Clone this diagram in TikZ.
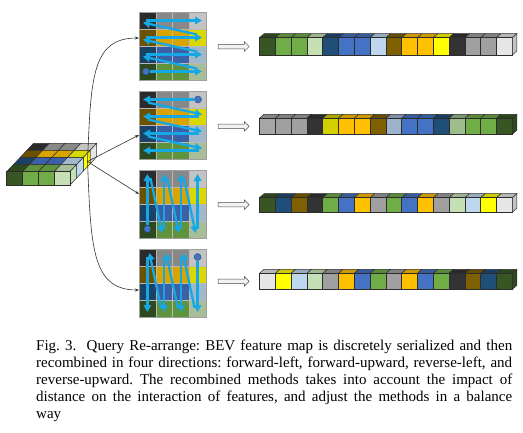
\documentclass[tikz,border=0pt]{standalone}
\usepackage{fontspec}
\setmainfont{Liberation Serif}
\usetikzlibrary{arrows.meta,shapes.arrows}

\definecolor{cDkGray}{RGB}{51,51,51}
\definecolor{cGray}{RGB}{160,160,160}
\definecolor{cLtGray}{RGB}{230,230,230}
\definecolor{cBrown}{RGB}{127,96,0}
\definecolor{cOrange}{RGB}{255,192,0}
\definecolor{cYellow}{RGB}{255,255,0}
\definecolor{cDkBlue}{RGB}{31,78,121}
\definecolor{cBlue}{RGB}{68,114,196}
\definecolor{cLtBlue}{RGB}{189,215,238}
\definecolor{cDkGreen}{RGB}{55,86,35}
\definecolor{cGreen}{RGB}{112,173,71}
\definecolor{cLtGreen}{RGB}{197,224,180}
% muted tones of the second bar
\definecolor{mLtGray}{RGB}{166,166,166}
\definecolor{mYellow}{RGB}{212,208,0}
\definecolor{mLtBlue}{RGB}{157,179,204}
\definecolor{mLtGreen}{RGB}{159,189,140}
\definecolor{cFlow}{RGB}{22,168,228}
\definecolor{cEdge}{RGB}{45,45,45}

% one cube of a serialized bar: x, y (front top left), width, height, colour
\newcommand{\barcube}[5]{%
  \filldraw[fill=#5!80!black,draw=cEdge,line width=0.5] (#1,#2) -- ++(4.5,-4) -- ++(#3,0) -- ++(-4.5,4) -- cycle;
  \filldraw[fill=#5,draw=cEdge,line width=0.5] (#1,#2) rectangle ++(#3,#4);
}
% side face closing a bar: x, y, height, colour
\newcommand{\barend}[4]{%
  \filldraw[fill=#4!85!black,draw=cEdge,line width=0.5] (#1,#2) -- ++(4.5,-4) -- ++(0,#3) -- ++(-4.5,4) -- cycle;
}
% cells of a 4x4 query grid, top edge at #1
\newcommand{\qgrid}[1]{%
  \foreach \r/\ca/\cb/\cc/\cd in {0/cDkGray/cGray/cGray/cLtGray,1/cBrown/cOrange/cOrange/cYellow,2/cDkBlue/cBlue/cBlue/cLtBlue,3/cDkGreen/cGreen/cGreen/cLtGreen}{
    \foreach \cl [count=\i from 0] in {\ca,\cb,\cc,\cd}{
      \filldraw[fill=\cl!85!black,draw=gray!55,line width=0.3] ({139+\i*16.75},{#1+\r*17}) rectangle ++(16.75,17);}
  }
}

\begin{document}
\begin{tikzpicture}[x=1pt,y=1pt,yscale=-1,xscale=1,
    flow/.style={draw=cFlow,line width=2.3pt,-{Triangle[length=7pt,width=7.5pt]}},
    startdot/.style={circle,fill=cBlue,draw=cDkBlue,line width=0.4,inner sep=0pt,minimum size=7pt},
    link/.style={draw=black!80,line width=0.6,-{Stealth[length=4pt,width=3pt]}},
    gridbox/.style={draw=gray!75,line width=0.8,minimum width=67,minimum height=68,inner sep=0pt},
    hollow/.style={single arrow,draw=gray!60!black,fill=gray!10,line width=0.5,minimum height=31,minimum width=9,single arrow head extend=2.5,inner xsep=0pt,inner ysep=2pt}]
\useasboundingbox (0,0) rectangle (523,432);

%Shape: BEV feature map (top faces, front faces, side faces)
\foreach \k/\ca/\cb/\cc/\cd in {3/cDkGray/cGray/cGray/cLtGray,2/cBrown/cOrange/cOrange/cYellow,1/cDkBlue/cBlue/cBlue/cLtBlue,0/cDkGreen/cGreen/cGreen/cLtGreen}{
  \foreach \cl [count=\i from 0] in {\ca,\cb,\cc,\cd}{
    \filldraw[fill=\cl!85!black,draw=cEdge,line width=0.5] ({6.7+\i*15.8+\k*6.7},{171.7-\k*7.1}) -- ++(15.8,0) -- ++(6.7,-7.1) -- ++(-15.8,0) -- cycle;}
  \filldraw[fill=\cd,draw=cEdge,line width=0.5] ({69.9+\k*6.7},{171.7-\k*7.1}) -- ++(6.7,-7.1) -- ++(0,13.5) -- ++(-6.7,7.1) -- cycle;
}
\foreach \cl [count=\i from 0] in {cDkGreen,cGreen,cGreen,cLtGreen}{
  \filldraw[fill=\cl,draw=cEdge,line width=0.5] ({6.7+\i*15.8},171.7) rectangle ++(15.8,13.5);}

%Shape: query grids
\qgrid{12}
\node (g1) [gridbox] at (172.5,46) {};
\qgrid{91}
\node (g2) [gridbox] at (172.5,125) {};
\qgrid{170}
\node (g3) [gridbox] at (172.5,204) {};
\qgrid{249}
\node (g4) [gridbox] at (172.5,283) {};

%Straight Lines: forward-left
\node (s1) [startdot] at (146,71.5) {};
\draw[flow] (s1) -- (202,71.5);
\foreach \y/\t in {71.5/54.5,54.5/37.5,37.5/20.5}{
  \draw[flow] (197,{\y-3}) -- (143,{\t+2});
  \draw[flow] (146,\t) -- (202,\t);
}
%Straight Lines: reverse-left
\node (s2) [startdot] at (198,99.5) {};
\draw[flow] (s2) -- (143,99.5);
\foreach \y/\t in {99.5/116.5,116.5/133.5,133.5/150.5}{
  \draw[flow] (148,{\y+3}) -- (202,{\t-2});
  \draw[flow] (199,\t) -- (143,\t);
}
%Straight Lines: forward-upward
\node (s3) [startdot] at (147.4,229) {};
\draw[flow] (s3) -- (147.4,174);
\foreach \x/\u in {147.4/164.1,164.1/180.9,180.9/197.6}{
  \draw[flow] ({\x+3},178) -- ({\u-2},233);
  \draw[flow] (\u,229) -- (\u,174);
}
%Straight Lines: reverse-upward
\node (s4) [startdot] at (197.6,257) {};
\draw[flow] (s4) -- (197.6,312);
\foreach \x/\u in {197.6/180.9,180.9/164.1,164.1/147.4}{
  \draw[flow] ({\x-3},308) -- ({\u+2},253);
  \draw[flow] (\u,257) -- (\u,312);
}

%Curve Lines: map to grids
\coordinate (src) at (87.5,161.5);
\coordinate (in1) at (139,38);
\coordinate (in2) at (139,135);
\coordinate (in3) at (139,194);
\coordinate (in4) at (139,290);
\draw[link] (src) .. controls (91,80) and (91,38) .. (in1);
\draw[link] (src) -- (in2);
\draw[link] (src) -- (in3);
\draw[link] (src) .. controls (91,245) and (91,290) .. (in4);

%Shape: hollow arrows
\node (h1) [hollow] at (232.5,46.5) {};
\node (h2) [hollow] at (232.5,126.3) {};
\node (h3) [hollow] at (232.5,204.7) {};
\node (h4) [hollow] at (232.5,281.3) {};

%Shape: serialized bars
\foreach \cl [count=\i from 0] in {cDkGreen,cGreen,cGreen,cLtGreen,cDkBlue,cBlue,cBlue,cLtBlue,cBrown,cOrange,cOrange,cYellow,cDkGray,cGray,cGray,cLtGray}{
  \barcube{259.5+\i*15.8}{37.7}{15.8}{17.3}{\cl}}
\barend{512.3}{37.7}{17.3}{cLtGray}
\foreach \cl [count=\i from 0] in {mLtGray,cGray,cGray,cDkGray,mYellow,cOrange,cOrange,cBrown,mLtBlue,cBlue,cBlue,cDkBlue,mLtGreen,cGreen,cGreen,cDkGreen}{
  \barcube{259.5+\i*15.8}{118.3}{15.8}{16}{\cl}}
\barend{512.3}{118.3}{16}{cDkGreen}
\foreach \cl [count=\i from 0] in {cDkGreen,cDkBlue,cBrown,cDkGray,cGreen,cBlue,cOrange,cGray,cGreen,cBlue,cOrange,cGray,cLtGreen,cLtBlue,cYellow,cLtGray}{
  \barcube{259.5+\i*15.8}{197.7}{15.8}{14.5}{\cl}}
\barend{512.3}{197.7}{14.5}{cLtGray}
\foreach \cl [count=\i from 0] in {cLtGray,cYellow,cLtBlue,cLtGreen,cGray,cOrange,cBlue,cGreen,cGray,cOrange,cBlue,cGreen,cDkGray,cBrown,cDkBlue,cDkGreen}{
  \barcube{259.5+\i*15.8}{273.3}{15.8}{16}{\cl}}
\barend{512.3}{273.3}{16}{cDkGreen}

% Text Node
\node (cap) [anchor=north west,inner sep=0pt,text width=476,align=justify,font=\fontsize{15}{17}\selectfont\frenchspacing] at (36,340)
  {Fig. 3.\ \ Query Re-arrange: BEV feature map is discretely serialized and then\linebreak
   recombined in four directions: forward-left, forward-upward, reverse-left, and\linebreak
   reverse-upward. The recombined methods takes into account the impact of\linebreak
   distance on the interaction of features, and adjust the methods in a balance\linebreak
   way};
\end{tikzpicture}
\end{document}
